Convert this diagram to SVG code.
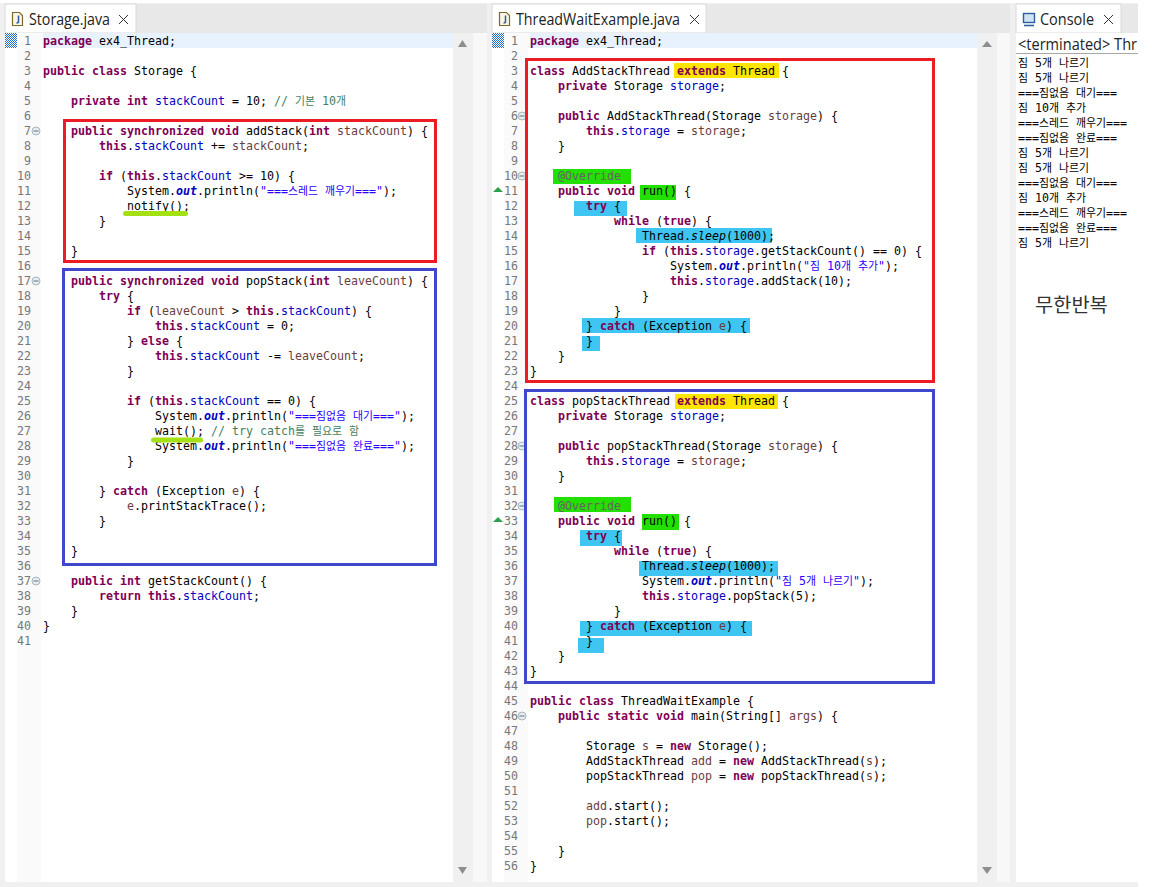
<svg xmlns="http://www.w3.org/2000/svg" width="1152" height="887" viewBox="0 0 1152 887">
<defs>
<pattern id="dith" width="2" height="2" patternUnits="userSpaceOnUse"><rect width="2" height="2" fill="#ffffff"/><rect width="1" height="1" fill="#1f6fd0"/><rect x="1" y="1" width="1" height="1" fill="#1f6fd0"/></pattern>
<g id="fold"><circle r="4" fill="#e6ecef" stroke="#9fb0b8" stroke-width="0.9"/><path d="M-2.5 0H2.5" stroke="#5f7480" stroke-width="1"/></g>
<g id="fileicon"><path d="M0.5 0.5H7.5L10.5 3.5V13.5H0.5Z" fill="#fbf6e4" stroke="#7a6a2a" stroke-width="1.2"/><path d="M6.5 3.5V9.5Q6.5 11 4.5 11" fill="none" stroke="#2b5aa8" stroke-width="1.5"/></g>
<path id="closex" d="M0 0L9 9M9 0L0 9" stroke="#333333" stroke-width="1" fill="none"/>
</defs>
<style>
text{font-family:"DejaVu Sans Mono","Noto Sans CJK KR",monospace;font-size:11.63px;fill:#000000;white-space:pre}
.n{fill:#787878;text-anchor:end}
.kw{fill:#7f0055;font-weight:bold}
.f{fill:#0000c0}
.o{fill:#0000c0;font-weight:bold;font-style:italic}
.i{font-style:italic}
.p{fill:#6a3e3e}
.c{fill:#3f7f5f}
.s{fill:#2a00ff}
.a{fill:#646464}
.k{font-family:"Noto Sans CJK KR","Noto Sans",sans-serif;font-size:10.87px}
.tab{font-family:"Open Sans","Noto Sans",sans-serif;font-size:16px;fill:#222222}
.hy{fill:#ffe600}
.hg{fill:#22e000}
.hb{fill:#3ec5f2}
.box{fill:none;stroke-width:3}
.red{stroke:#ed1c24}
.blue{stroke:#3f48cc}
.ul{fill:none;stroke:#a4e012;stroke-linecap:round}
.arr{fill:#8e8e8e}
</style>

<g id="chrome">
<rect width="1152" height="887" fill="#ffffff"/>
<rect x="0" y="3" width="1138" height="884" fill="#f0f0f0"/>
<rect x="5" y="4" width="482" height="29" fill="#e8e8e8"/>
<rect x="5" y="4" width="131" height="29" fill="#ffffff" stroke="#d8d8d8" stroke-width="1"/>
<rect x="5" y="33" width="482" height="849" fill="#f8f8f8"/>
<rect x="5" y="33" width="12" height="849" fill="#ffffff"/>
<rect x="17" y="33" width="24" height="849" fill="#fafafa"/>
<rect x="41" y="33" width="412" height="849" fill="#ffffff"/>
<rect x="453" y="33" width="20" height="849" fill="#f0f0f0"/>
<rect x="5" y="33" width="12" height="15" fill="url(#dith)"/>
<rect x="43" y="33" width="410" height="15" fill="#e8f2fe"/>
<rect x="492" y="4" width="518" height="29" fill="#e8e8e8"/>
<rect x="492" y="4" width="214" height="29" fill="#ffffff" stroke="#d8d8d8" stroke-width="1"/>
<rect x="492" y="33" width="518" height="849" fill="#f8f8f8"/>
<rect x="492" y="33" width="12" height="849" fill="#ffffff"/>
<rect x="504" y="33" width="24" height="849" fill="#fafafa"/>
<rect x="528" y="33" width="449" height="849" fill="#ffffff"/>
<rect x="977" y="33" width="20" height="849" fill="#f0f0f0"/>
<rect x="492" y="33" width="12" height="15" fill="url(#dith)"/>
<rect x="530" y="33" width="447" height="15" fill="#e8f2fe"/>
<rect x="1016" y="4" width="122" height="29" fill="#e8e8e8"/>
<rect x="1016" y="4" width="105" height="29" fill="#ffffff" stroke="#d8d8d8" stroke-width="1"/>
<rect x="1016" y="33" width="122" height="849" fill="#ffffff"/>
<path d="M1016 53.5H1138" stroke="#a8a8a8" stroke-width="1"/>
<rect x="0" y="882" width="1138" height="5" fill="#f0f0f0"/>
<path class="arr" d="M462.5 40L467 47H458Z"/>
<path class="arr" d="M462.5 874L467 867H458Z"/>
<path class="arr" d="M987 41L992 47H982Z"/>
<path class="arr" d="M987 874L992 867H982Z"/>
<use href="#fileicon" x="12" y="12"/>
<use href="#closex" x="119" y="15"/>
<use href="#fileicon" x="499" y="12"/>
<use href="#closex" x="690" y="15"/>
<rect x="1023.5" y="13.5" width="11" height="9" fill="#cfe3f5" stroke="#2f5f9f" stroke-width="1.4"/>
<path d="M1024 25.5H1034" stroke="#2f5f9f" stroke-width="1.6"/>
<use href="#closex" x="1104" y="15"/>
<text class="tab" x="29" y="25" textLength="81" lengthAdjust="spacingAndGlyphs">Storage.java</text>
<text class="tab" x="516" y="25" textLength="164" lengthAdjust="spacingAndGlyphs">ThreadWaitExample.java</text>
<text class="tab" x="1040" y="25" textLength="54" lengthAdjust="spacingAndGlyphs">Console</text>
<text class="tab" x="1018" y="50" textLength="119" lengthAdjust="spacingAndGlyphs">&lt;terminated&gt; Thr</text>
<use href="#fold" x="36" y="131"/>
<use href="#fold" x="36" y="281"/>
<use href="#fold" x="36" y="581"/>
<use href="#fold" x="522" y="116"/>
<use href="#fold" x="522" y="176"/>
<use href="#fold" x="522" y="446"/>
<use href="#fold" x="522" y="506"/>
<use href="#fold" x="522" y="716"/>
<path d="M498 187L503 192H493Z" fill="#2e9e4f"/>
<path d="M498 517L503 522H493Z" fill="#2e9e4f"/>
</g>

<g id="highlights">
<rect class="hy" x="674" y="63" width="105" height="15"/>
<rect class="hy" x="675" y="394" width="103" height="15"/>
<rect class="hg" x="553" y="169" width="78" height="15"/>
<rect class="hg" x="640" y="185" width="36" height="15"/>
<rect class="hg" x="554" y="497" width="77" height="15"/>
<rect class="hg" x="642" y="514" width="37" height="16"/>
<rect class="hb" x="574" y="201" width="53" height="15"/>
<rect class="hb" x="636" y="228" width="136" height="15"/>
<rect class="hb" x="582" y="318" width="168" height="15"/>
<rect class="hb" x="582" y="336" width="18" height="15"/>
<rect class="hb" x="580" y="530" width="42" height="16"/>
<rect class="hb" x="639" y="561" width="139" height="15"/>
<rect class="hb" x="580" y="621" width="172" height="15"/>
<rect class="hb" x="578" y="638" width="26" height="15"/>
</g>

<g id="line-numbers-left">
<text class="n" x="31" y="45">1</text><text class="n" x="31" y="60">2</text><text class="n" x="31" y="75">3</text><text class="n" x="31" y="90">4</text><text class="n" x="31" y="105">5</text><text class="n" x="31" y="120">6</text><text class="n" x="31" y="135">7</text><text class="n" x="31" y="150">8</text><text class="n" x="31" y="165">9</text><text class="n" x="31" y="180">10</text><text class="n" x="31" y="195">11</text><text class="n" x="31" y="210">12</text><text class="n" x="31" y="225">13</text><text class="n" x="31" y="240">14</text><text class="n" x="31" y="255">15</text><text class="n" x="31" y="270">16</text><text class="n" x="31" y="285">17</text><text class="n" x="31" y="300">18</text><text class="n" x="31" y="315">19</text><text class="n" x="31" y="330">20</text><text class="n" x="31" y="345">21</text><text class="n" x="31" y="360">22</text><text class="n" x="31" y="375">23</text><text class="n" x="31" y="390">24</text><text class="n" x="31" y="405">25</text><text class="n" x="31" y="420">26</text><text class="n" x="31" y="435">27</text><text class="n" x="31" y="450">28</text><text class="n" x="31" y="465">29</text><text class="n" x="31" y="480">30</text><text class="n" x="31" y="495">31</text><text class="n" x="31" y="510">32</text><text class="n" x="31" y="525">33</text><text class="n" x="31" y="540">34</text><text class="n" x="31" y="555">35</text><text class="n" x="31" y="570">36</text><text class="n" x="31" y="585">37</text><text class="n" x="31" y="600">38</text><text class="n" x="31" y="615">39</text><text class="n" x="31" y="630">40</text><text class="n" x="31" y="645">41</text>
</g>
<g id="line-numbers-right">
<text class="n" x="518" y="45">1</text><text class="n" x="518" y="60">2</text><text class="n" x="518" y="75">3</text><text class="n" x="518" y="90">4</text><text class="n" x="518" y="105">5</text><text class="n" x="518" y="120">6</text><text class="n" x="518" y="135">7</text><text class="n" x="518" y="150">8</text><text class="n" x="518" y="165">9</text><text class="n" x="518" y="180">10</text><text class="n" x="518" y="195">11</text><text class="n" x="518" y="210">12</text><text class="n" x="518" y="225">13</text><text class="n" x="518" y="240">14</text><text class="n" x="518" y="255">15</text><text class="n" x="518" y="270">16</text><text class="n" x="518" y="285">17</text><text class="n" x="518" y="300">18</text><text class="n" x="518" y="315">19</text><text class="n" x="518" y="330">20</text><text class="n" x="518" y="345">21</text><text class="n" x="518" y="360">22</text><text class="n" x="518" y="375">23</text><text class="n" x="518" y="390">24</text><text class="n" x="518" y="405">25</text><text class="n" x="518" y="420">26</text><text class="n" x="518" y="435">27</text><text class="n" x="518" y="450">28</text><text class="n" x="518" y="465">29</text><text class="n" x="518" y="480">30</text><text class="n" x="518" y="495">31</text><text class="n" x="518" y="510">32</text><text class="n" x="518" y="525">33</text><text class="n" x="518" y="540">34</text><text class="n" x="518" y="555">35</text><text class="n" x="518" y="570">36</text><text class="n" x="518" y="585">37</text><text class="n" x="518" y="600">38</text><text class="n" x="518" y="615">39</text><text class="n" x="518" y="630">40</text><text class="n" x="518" y="645">41</text><text class="n" x="518" y="660">42</text><text class="n" x="518" y="675">43</text><text class="n" x="518" y="690">44</text><text class="n" x="518" y="705">45</text><text class="n" x="518" y="720">46</text><text class="n" x="518" y="735">47</text><text class="n" x="518" y="750">48</text><text class="n" x="518" y="765">49</text><text class="n" x="518" y="780">50</text><text class="n" x="518" y="795">51</text><text class="n" x="518" y="810">52</text><text class="n" x="518" y="825">53</text><text class="n" x="518" y="840">54</text><text class="n" x="518" y="855">55</text><text class="n" x="518" y="870">56</text>
</g>

<g id="storage-code">
<text x="43" y="45"><tspan class="kw">package</tspan> ex4_Thread;</text>
<text x="43" y="75"><tspan class="kw">public</tspan> <tspan class="kw">class</tspan> Storage {</text>
<text x="71" y="105"><tspan class="kw">private</tspan> <tspan class="kw">int</tspan> <tspan class="f">stackCount</tspan> = 10; <tspan class="c">// <tspan class="k">기본</tspan> 10<tspan class="k">개</tspan></tspan></text>
<text x="71" y="135"><tspan class="kw">public</tspan> <tspan class="kw">synchronized</tspan> <tspan class="kw">void</tspan> addStack(<tspan class="kw">int</tspan> <tspan class="p">stackCount</tspan>) {</text>
<text x="99" y="150"><tspan class="kw">this</tspan>.<tspan class="f">stackCount</tspan> += <tspan class="p">stackCount</tspan>;</text>
<text x="99" y="180"><tspan class="kw">if</tspan> (<tspan class="kw">this</tspan>.<tspan class="f">stackCount</tspan> &gt;= 10) {</text>
<text x="127" y="195">System.<tspan class="o">out</tspan>.println(<tspan class="s">"===<tspan class="k">스레드</tspan> <tspan class="k">깨우기</tspan>==="</tspan>);</text>
<text x="127" y="210">notify();</text>
<text x="99" y="225">}</text>
<text x="71" y="255">}</text>
<text x="71" y="285"><tspan class="kw">public</tspan> <tspan class="kw">synchronized</tspan> <tspan class="kw">void</tspan> popStack(<tspan class="kw">int</tspan> <tspan class="p">leaveCount</tspan>) {</text>
<text x="99" y="300"><tspan class="kw">try</tspan> {</text>
<text x="127" y="315"><tspan class="kw">if</tspan> (<tspan class="p">leaveCount</tspan> &gt; <tspan class="kw">this</tspan>.<tspan class="f">stackCount</tspan>) {</text>
<text x="155" y="330"><tspan class="kw">this</tspan>.<tspan class="f">stackCount</tspan> = 0;</text>
<text x="127" y="345">} <tspan class="kw">else</tspan> {</text>
<text x="155" y="360"><tspan class="kw">this</tspan>.<tspan class="f">stackCount</tspan> -= <tspan class="p">leaveCount</tspan>;</text>
<text x="127" y="375">}</text>
<text x="127" y="405"><tspan class="kw">if</tspan> (<tspan class="kw">this</tspan>.<tspan class="f">stackCount</tspan> == 0) {</text>
<text x="155" y="420">System.<tspan class="o">out</tspan>.println(<tspan class="s">"===<tspan class="k">짐없음</tspan> <tspan class="k">대기</tspan>==="</tspan>);</text>
<text x="155" y="435">wait(); <tspan class="c">// try catch<tspan class="k">를</tspan> <tspan class="k">필요로</tspan> <tspan class="k">함</tspan></tspan></text>
<text x="155" y="450">System.<tspan class="o">out</tspan>.println(<tspan class="s">"===<tspan class="k">짐없음</tspan> <tspan class="k">완료</tspan>==="</tspan>);</text>
<text x="127" y="465">}</text>
<text x="99" y="495">} <tspan class="kw">catch</tspan> (Exception <tspan class="p">e</tspan>) {</text>
<text x="127" y="510"><tspan class="p">e</tspan>.printStackTrace();</text>
<text x="99" y="525">}</text>
<text x="71" y="555">}</text>
<text x="71" y="585"><tspan class="kw">public</tspan> <tspan class="kw">int</tspan> getStackCount() {</text>
<text x="99" y="600"><tspan class="kw">return</tspan> <tspan class="kw">this</tspan>.<tspan class="f">stackCount</tspan>;</text>
<text x="71" y="615">}</text>
<text x="43" y="630">}</text>
</g>

<g id="example-code">
<text x="530" y="45"><tspan class="kw">package</tspan> ex4_Thread;</text>
<text x="530" y="75"><tspan class="kw">class</tspan> AddStackThread <tspan class="kw">extends</tspan> Thread {</text>
<text x="558" y="90"><tspan class="kw">private</tspan> Storage <tspan class="f">storage</tspan>;</text>
<text x="558" y="120"><tspan class="kw">public</tspan> AddStackThread(Storage <tspan class="p">storage</tspan>) {</text>
<text x="586" y="135"><tspan class="kw">this</tspan>.<tspan class="f">storage</tspan> = <tspan class="p">storage</tspan>;</text>
<text x="558" y="150">}</text>
<text x="558" y="180" class="a">@Override</text>
<text x="558" y="195"><tspan class="kw">public</tspan> <tspan class="kw">void</tspan> run() {</text>
<text x="586" y="210"><tspan class="kw">try</tspan> {</text>
<text x="614" y="225"><tspan class="kw">while</tspan> (<tspan class="kw">true</tspan>) {</text>
<text x="642" y="240">Thread.<tspan class="i">sleep</tspan>(1000);</text>
<text x="642" y="255"><tspan class="kw">if</tspan> (<tspan class="kw">this</tspan>.<tspan class="f">storage</tspan>.getStackCount() == 0) {</text>
<text x="670" y="270">System.<tspan class="o">out</tspan>.println(<tspan class="s">"<tspan class="k">짐</tspan> 10<tspan class="k">개</tspan> <tspan class="k">추가</tspan>"</tspan>);</text>
<text x="670" y="285"><tspan class="kw">this</tspan>.<tspan class="f">storage</tspan>.addStack(10);</text>
<text x="642" y="300">}</text>
<text x="614" y="315">}</text>
<text x="586" y="330">} <tspan class="kw">catch</tspan> (Exception <tspan class="p">e</tspan>) {</text>
<text x="586" y="345">}</text>
<text x="558" y="360">}</text>
<text x="530" y="375">}</text>
<text x="530" y="405"><tspan class="kw">class</tspan> popStackThread <tspan class="kw">extends</tspan> Thread {</text>
<text x="558" y="420"><tspan class="kw">private</tspan> Storage <tspan class="f">storage</tspan>;</text>
<text x="558" y="450"><tspan class="kw">public</tspan> popStackThread(Storage <tspan class="p">storage</tspan>) {</text>
<text x="586" y="465"><tspan class="kw">this</tspan>.<tspan class="f">storage</tspan> = <tspan class="p">storage</tspan>;</text>
<text x="558" y="480">}</text>
<text x="558" y="510" class="a">@Override</text>
<text x="558" y="525"><tspan class="kw">public</tspan> <tspan class="kw">void</tspan> run() {</text>
<text x="586" y="540"><tspan class="kw">try</tspan> {</text>
<text x="614" y="555"><tspan class="kw">while</tspan> (<tspan class="kw">true</tspan>) {</text>
<text x="642" y="570">Thread.<tspan class="i">sleep</tspan>(1000);</text>
<text x="642" y="585">System.<tspan class="o">out</tspan>.println(<tspan class="s">"<tspan class="k">짐</tspan> 5<tspan class="k">개</tspan> <tspan class="k">나르기</tspan>"</tspan>);</text>
<text x="642" y="600"><tspan class="kw">this</tspan>.<tspan class="f">storage</tspan>.popStack(5);</text>
<text x="614" y="615">}</text>
<text x="586" y="630">} <tspan class="kw">catch</tspan> (Exception <tspan class="p">e</tspan>) {</text>
<text x="586" y="645">}</text>
<text x="558" y="660">}</text>
<text x="530" y="675">}</text>
<text x="530" y="705"><tspan class="kw">public</tspan> <tspan class="kw">class</tspan> ThreadWaitExample {</text>
<text x="558" y="720"><tspan class="kw">public</tspan> <tspan class="kw">static</tspan> <tspan class="kw">void</tspan> main(String[] <tspan class="p">args</tspan>) {</text>
<text x="586" y="750">Storage <tspan class="p">s</tspan> = <tspan class="kw">new</tspan> Storage();</text>
<text x="586" y="765">AddStackThread <tspan class="p">add</tspan> = <tspan class="kw">new</tspan> AddStackThread(<tspan class="p">s</tspan>);</text>
<text x="586" y="780">popStackThread <tspan class="p">pop</tspan> = <tspan class="kw">new</tspan> popStackThread(<tspan class="p">s</tspan>);</text>
<text x="586" y="810"><tspan class="p">add</tspan>.start();</text>
<text x="586" y="825"><tspan class="p">pop</tspan>.start();</text>
<text x="558" y="855">}</text>
<text x="530" y="870">}</text>
</g>

<g id="console-output">
<text x="1018" y="67"><tspan class="k">짐</tspan> 5<tspan class="k">개</tspan> <tspan class="k">나르기</tspan></text>
<text x="1018" y="82"><tspan class="k">짐</tspan> 5<tspan class="k">개</tspan> <tspan class="k">나르기</tspan></text>
<text x="1018" y="97">===<tspan class="k">짐없음</tspan> <tspan class="k">대기</tspan>===</text>
<text x="1018" y="112"><tspan class="k">짐</tspan> 10<tspan class="k">개</tspan> <tspan class="k">추가</tspan></text>
<text x="1018" y="127">===<tspan class="k">스레드</tspan> <tspan class="k">깨우기</tspan>===</text>
<text x="1018" y="142">===<tspan class="k">짐없음</tspan> <tspan class="k">완료</tspan>===</text>
<text x="1018" y="157"><tspan class="k">짐</tspan> 5<tspan class="k">개</tspan> <tspan class="k">나르기</tspan></text>
<text x="1018" y="172"><tspan class="k">짐</tspan> 5<tspan class="k">개</tspan> <tspan class="k">나르기</tspan></text>
<text x="1018" y="187">===<tspan class="k">짐없음</tspan> <tspan class="k">대기</tspan>===</text>
<text x="1018" y="202"><tspan class="k">짐</tspan> 10<tspan class="k">개</tspan> <tspan class="k">추가</tspan></text>
<text x="1018" y="217">===<tspan class="k">스레드</tspan> <tspan class="k">깨우기</tspan>===</text>
<text x="1018" y="232">===<tspan class="k">짐없음</tspan> <tspan class="k">완료</tspan>===</text>
<text x="1018" y="247"><tspan class="k">짐</tspan> 5<tspan class="k">개</tspan> <tspan class="k">나르기</tspan></text>
<text x="1035" y="312" style="font-family:'Noto Sans CJK KR',sans-serif;font-size:19.8px;fill:#333333">무한반복</text>
</g>

<g id="annotations">
<path class="ul" stroke-width="5" d="M125.5 213.5H185.5"/>
<path class="ul" stroke-width="5" d="M153.5 440H200.5"/>
<rect class="box red" x="64.5" y="120.5" width="371" height="141"/>
<rect class="box blue" x="63.5" y="269.5" width="372" height="295"/>
<rect class="box red" x="526.5" y="59.5" width="407" height="322"/>
<rect class="box blue" x="525.5" y="390.5" width="408" height="292"/>
</g>
</svg>
